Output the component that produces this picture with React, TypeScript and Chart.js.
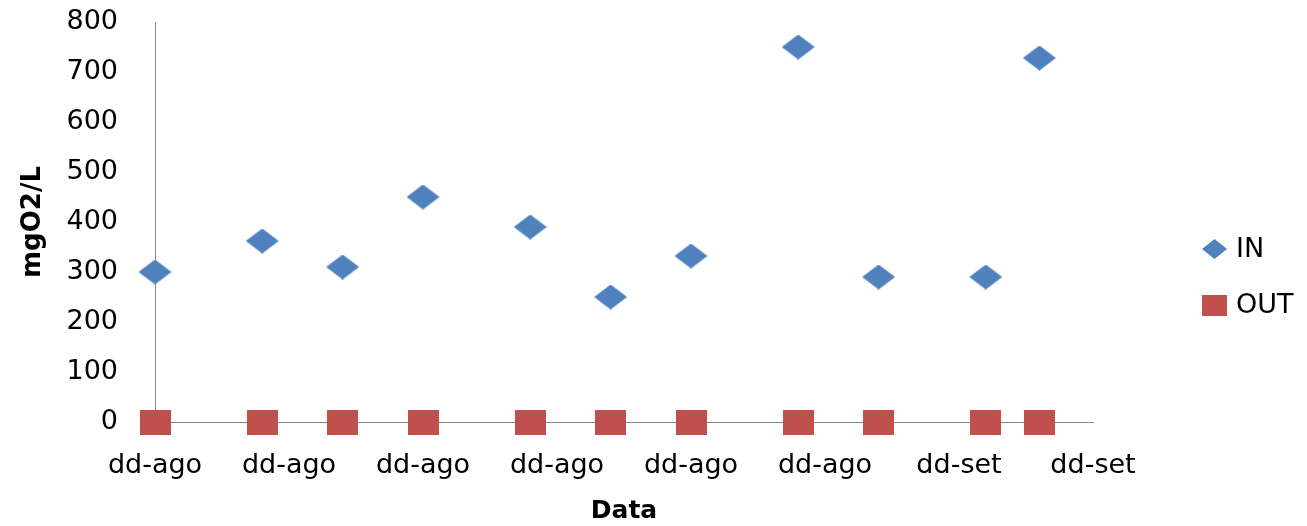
import React, { useEffect, useRef } from "react";
import { Chart, registerables } from "chart.js";

Chart.register(...registerables);

// Days from the first sample (x positions on the date axis)
const xDays = [0, 4, 7, 10, 14, 17, 20, 24, 27, 31, 33];
const inValues = [300, 362, 310, 450, 390, 250, 332, 750, 290, 290, 728];
const outValues = [0, 0, 0, 0, 0, 0, 0, 0, 0, 0, 0];
const xTickLabels = ["dd-ago", "dd-ago", "dd-ago", "dd-ago", "dd-ago", "dd-ago", "dd-set", "dd-set"];
const seriesNames = ["IN", "OUT"];
const yTitle = "mgO2/L";
const xTitle = "Data";

const BLUE = "#4F81BD";
const RED = "#C0504D";
const FONT = "'DejaVu Sans', sans-serif";

function makeDiamond(w: number, h: number, color: string) {
  const c = document.createElement("canvas");
  c.width = w;
  c.height = h;
  const ctx = c.getContext("2d")!;
  ctx.fillStyle = color;
  ctx.beginPath();
  ctx.moveTo(w / 2, 0);
  ctx.lineTo(w, h / 2);
  ctx.lineTo(w / 2, h);
  ctx.lineTo(0, h / 2);
  ctx.closePath();
  ctx.fill();
  return c;
}

function makeRect(w: number, h: number, color: string) {
  const c = document.createElement("canvas");
  c.width = w;
  c.height = h;
  const ctx = c.getContext("2d")!;
  ctx.fillStyle = color;
  ctx.fillRect(0, 0, w, h);
  return c;
}

export default function App() {
  const ref = useRef<HTMLCanvasElement | null>(null);

  useEffect(() => {
    document.body.style.margin = "0";
    const canvas = ref.current!;
    const diamond = makeDiamond(33, 25, BLUE);
    const square = makeRect(31, 25, RED);
    const legDiamond = makeDiamond(25, 20, BLUE);
    const legSquare = makeRect(25, 21, RED);

    const legendPlugin = {
      id: "customLegend",
      afterDraw(chart: any) {
        const ctx = chart.ctx;
        ctx.save();
        ctx.font = `27px ${FONT}`;
        ctx.fillStyle = "#000";
        ctx.textBaseline = "middle";
        ctx.textAlign = "left";
        const items = [
          { img: legDiamond, y: 249, label: seriesNames[0] },
          { img: legSquare, y: 305, label: seriesNames[1] },
        ];
        for (const it of items) {
          ctx.drawImage(it.img, 1202, it.y - it.img.height / 2);
          ctx.fillText(it.label, 1236, it.y + 1);
        }
        ctx.restore();
      },
    };

    const chart = new Chart(canvas, {
      type: "scatter",
      data: {
        datasets: [
          {
            label: seriesNames[0],
            data: xDays.map((x, i) => ({ x, y: inValues[i] })),
            pointStyle: diamond as any,
            backgroundColor: BLUE,
            borderColor: BLUE,
            clip: false as any,
          },
          {
            label: seriesNames[1],
            data: xDays.map((x, i) => ({ x, y: outValues[i] })),
            pointStyle: square as any,
            backgroundColor: RED,
            borderColor: RED,
            clip: false as any,
          },
        ],
      },
      plugins: [legendPlugin],
      options: {
        animation: false,
        responsive: false,
        layout: { padding: { top: 22, right: 214, left: 0, bottom: 0 } },
        plugins: {
          legend: { display: false },
          tooltip: { enabled: false },
        },
        scales: {
          x: {
            type: "linear",
            min: 0,
            max: 35,
            grid: { display: false, drawTicks: true, tickLength: 28, tickColor: "rgba(0,0,0,0)" },
            border: { display: true, color: "#868686", width: 1 },
            afterFit: (s: any) => {
              s.height = 104;
            },
            ticks: {
              stepSize: 5,
              autoSkip: false,
              maxRotation: 0,
              padding: 0,
              color: "#000",
              font: { family: FONT, size: 27 },
              callback: (_v: any, i: number) => xTickLabels[i],
            },
            title: {
              display: true,
              text: xTitle,
              color: "#000",
              font: { family: FONT, size: 25, weight: "bold" },
              padding: { top: 0, bottom: 0 },
            },
          },
          y: {
            min: 0,
            max: 800,
            grid: { display: false, drawTicks: true, tickLength: 37, tickColor: "rgba(0,0,0,0)" },
            border: { display: true, color: "#868686", width: 1 },
            afterFit: (s: any) => {
              s.width = 155;
            },
            ticks: {
              stepSize: 100,
              padding: 0,
              color: "#000",
              font: { family: FONT, size: 27 },
            },
            title: {
              display: true,
              text: yTitle,
              color: "#000",
              font: { family: FONT, size: 26, weight: "bold" },
              padding: { top: 18, bottom: 0 },
            },
          },
        },
      },
    });
    return () => chart.destroy();
  }, []);

  return (
    <div style={{ width: 1307, height: 526 }}>
      <canvas ref={ref} width={1307} height={526} />
    </div>
  );
}
